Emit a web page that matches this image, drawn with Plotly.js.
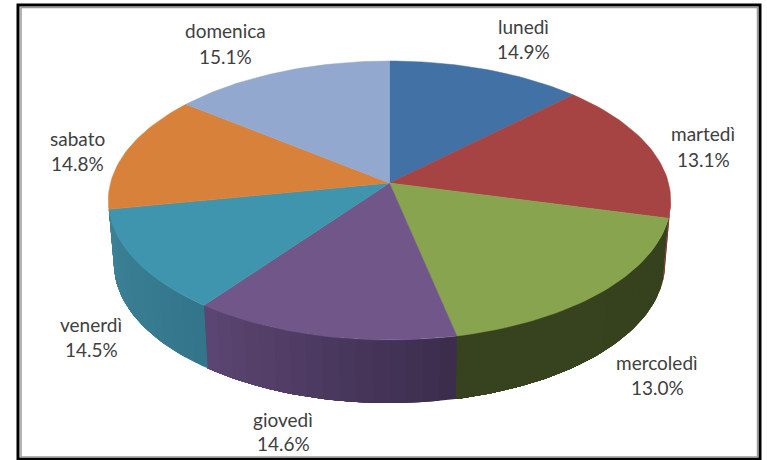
<!DOCTYPE html>
<html>
<head>
<meta charset="utf-8">
<script src="https://cdn.plot.ly/plotly-3.0.1.min.js"></script>
<style>html,body{margin:0;padding:0;background:#fff}#chart{width:767px;height:460px}</style>
</head>
<body>
<div id="chart"></div>
<script>
// Labels printed on the chart
var days = ['lunedì','martedì','mercoledì','giovedì','venerdì','sabato','domenica'];
var printedPercent = ['14.9%','13.1%','13.0%','14.6%','14.5%','14.8%','15.1%'];
// Share of the circle each slice visibly takes in the picture
var drawnShare = [12.7,16.3,17.6,13.6,11.8,13.6,14.4];
var topColors = ['#4271a6','#a54442','#88a44e','#705689','#3f95ae','#d8813b','#92a8cf'];
var wallStart = ['#3a618c','#8c3a38','#37421e','#5c4673','#3d8299','#b56c30','#7b8eb0'];
var wallEnd   = ['#3a618c','#8c3a38','#36411e','#3b2c4c','#33768a','#b56c30','#7b8eb0'];
var labelX = [523,703,657,283,91,77,225];
var labelY1 = [26,133,362,419,324,138,30];
var labelY2 = [51,159,387,443,349,163,56];

// Perspective disc on axes that run in picture units
var cx = 389.5, cy = 183, A = 279, B = 137.3, k = 0.1255;
var depth = 63, shrinkX = 0.98;
var wallFrom = 96, wallTo = 259.5;
function proj(deg, lower){
  var t = deg*Math.PI/180, u = Math.sin(t), v = Math.cos(t), d = 1 + k*v;
  var s = lower ? shrinkX : 1;
  return [cx + s*A*u/d, cy + (lower ? depth : 0) - B*v/d];
}
function range(a,b,n){var r=[];for(var i=0;i<=n;i++)r.push(a+(b-a)*i/n);return r;}
function hex(c){return [1,3,5].map(function(i){return parseInt(c.substr(i,2),16);});}
function mix(a,b,t){var x=hex(a),y=hex(b);return 'rgb('+x.map(function(q,i){return Math.round(q+(y[i]-q)*t);}).join(',')+')';}

var edges=[0];
drawnShare.forEach(function(s,i){edges.push(edges[i]+s*3.6);});
edges[edges.length-1]=360;

var traces=[];
function poly(pts,color,width){
  traces.push({type:'scatter',mode:'lines',x:pts.map(function(p){return p[0];}),y:pts.map(function(p){return p[1];}),
    fill:'toself',fillcolor:color,line:{color:color,width:width},hoverinfo:'skip',showlegend:false});
}
// side walls: each strip runs to the slice's end, and the next strip paints over it, so no seams show
days.forEach(function(d,i){
  var a=Math.max(edges[i],wallFrom), b=Math.min(edges[i+1],wallTo);
  if(b<=a) return;
  var strips=Math.max(2,Math.round((b-a)/3));
  for(var j=0;j<strips;j++){
    var a0=a+(b-a)*j/strips;
    var n=Math.max(2,strips-j)*2;
    var top=range(a0,b,n).map(function(q){return proj(q,false);});
    var bot=range(b,a0,n).map(function(q){return proj(q,true);});
    poly(top.concat(bot),mix(wallEnd[i],wallStart[i],(j+0.5)/strips),0);
  }
});
// top faces
days.forEach(function(d,i){
  var n=Math.round((edges[i+1]-edges[i])/1.5);
  var pts=[[cx,cy]].concat(range(edges[i],edges[i+1],n).map(function(q){return proj(q,false);}));
  pts.push([cx,cy]);
  poly(pts,topColors[i],0.5);
});

var annotations=[];
days.forEach(function(d,i){
  var f={family:'Lato, "Open Sans", sans-serif',size:19,color:'#404040'};
  annotations.push({x:labelX[i],y:labelY1[i],xref:'x',yref:'y',text:d,showarrow:false,font:f,xanchor:'center',yanchor:'middle'});
  annotations.push({x:labelX[i],y:labelY2[i],xref:'x',yref:'y',text:printedPercent[i],showarrow:false,font:f,xanchor:'center',yanchor:'middle'});
});

var layout={
  width:767,height:460,margin:{l:0,r:0,t:0,b:0},
  paper_bgcolor:'#ffffff',plot_bgcolor:'#ffffff',showlegend:false,
  xaxis:{range:[0,767],visible:false,fixedrange:true},
  yaxis:{range:[460,0],visible:false,fixedrange:true},
  annotations:annotations,
  shapes:[
    {type:'rect',xref:'x',yref:'y',x0:18,x1:760,y0:5,y1:459,line:{color:'#000000',width:3},layer:'above'},
    {type:'rect',xref:'x',yref:'y',x0:21,x1:757.5,y0:7.5,y1:457,line:{color:'#9a9a9a',width:1.5},layer:'above'}
  ]
};
Plotly.newPlot('chart',traces,layout,{displayModeBar:false,staticPlot:true});
</script>
</body>
</html>
